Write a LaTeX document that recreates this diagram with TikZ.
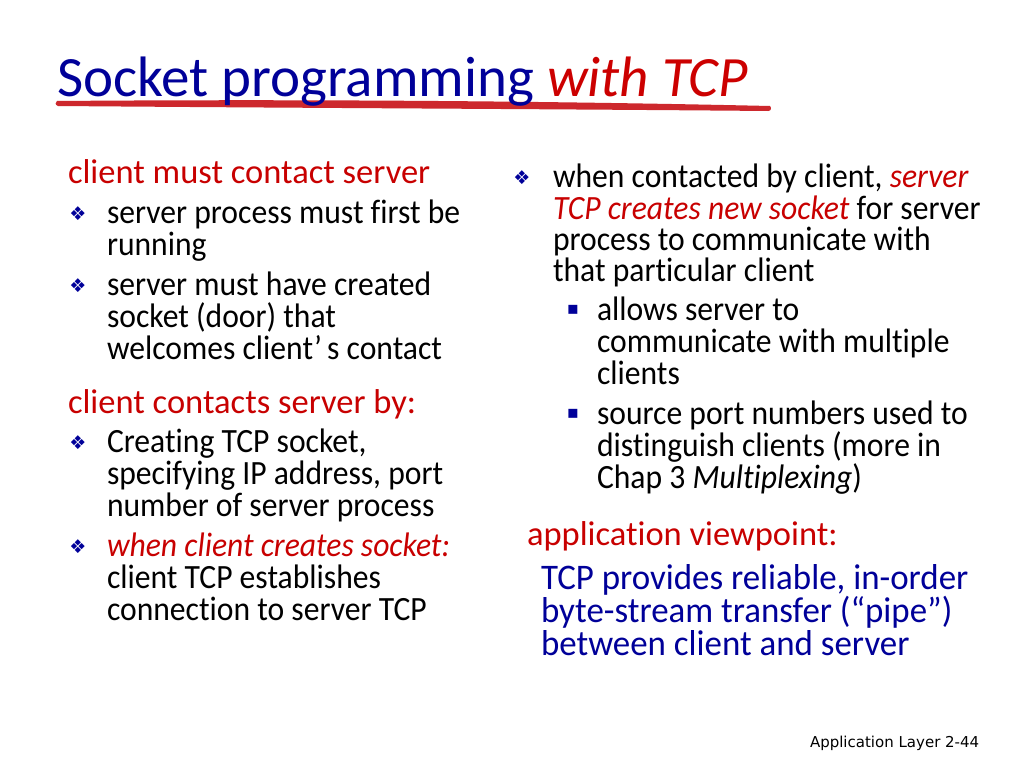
\documentclass[tikz,border=0pt]{standalone}
\usepackage{fontspec}
\setmainfont[RawFeature=-liga]{Carlito}
\newfontfamily\bodyfont[FakeStretch=0.93,RawFeature=-liga]{Carlito}
\newfontfamily\bluefont[FakeStretch=0.97,RawFeature=-liga]{Carlito}
\newfontfamily\symfont{DejaVu Sans}
\newfontfamily\footfont{DejaVu Sans}
\definecolor{navy}{RGB}{0,0,153}
\definecolor{tred}{RGB}{204,0,0}
\definecolor{bred}{RGB}{200,0,0}
\definecolor{ulred}{RGB}{205,40,45}
\tikzset{
  every node/.style={inner sep=0pt,outer sep=0pt,anchor=base west},
  titletxt/.style={font=\fontsize{57}{57}\selectfont,text=navy},
  bodytxt/.style={font=\bodyfont\fontsize{34}{34}\selectfont,text=black},
  headtxt/.style={font=\fontsize{34.5}{34.5}\selectfont,text=bred},
  bluetxt/.style={font=\bluefont\fontsize{36}{36}\selectfont,text=navy},
  bul/.style={font=\symfont\fontsize{19}{19}\selectfont,text=navy,anchor=center},
  sqbul/.style={font=\symfont\fontsize{18}{18}\selectfont,text=navy,anchor=center},
  foottxt/.style={font=\footfont\fontsize{15}{15}\selectfont,text=black}
}
\begin{document}
\begin{tikzpicture}[x=1pt,y=-1pt]
\useasboundingbox (0,0) rectangle (1024,768);
\fill[white] (0,0) rectangle (1024,768);
% title underline (brush stroke)
\fill[ulred] (57,101) .. controls (300,99) and (550,101) .. (770,106)
  .. controls (772,108) and (771,111) .. (768,111)
  .. controls (550,109) and (300,108) .. (58,106)
  .. controls (55,105) and (55,102) .. (57,101) -- cycle;
\node[titletxt] (title) at (57,96) {Socket programming \textcolor{tred}{\itshape with TCP}};
% left column
\node[headtxt] (h1) at (68,183) {client must contact server};
\node[bul] (b1) at (78,214) {❖};
\node[bodytxt] (l1a) at (107,223) {server process must first be};
\node[bodytxt] (l1b) at (107,255) {running};
\node[bul] (b2) at (78,286) {❖};
\node[bodytxt] (l2a) at (107,295) {server must have created};
\node[bodytxt] (l2b) at (107,327) {socket (door) that};
\node[bodytxt] (l2c) at (107,359) {welcomes client’\hspace{5pt}s contact};
\node[headtxt] (h2) at (68,413) {client contacts server by:};
\node[bul] (b3) at (78,443) {❖};
\node[bodytxt] (l3a) at (107,452) {Creating TCP socket,};
\node[bodytxt] (l3b) at (107,484) {specifying IP address, port};
\node[bodytxt] (l3c) at (107,516) {number of server process};
\node[bul] (b4) at (78,547) {❖};
\node[bodytxt] (l4a) at (107,556) {\textcolor{bred}{\itshape when client creates socket:}};
\node[bodytxt] (l4b) at (107,588) {client TCP establishes};
\node[bodytxt] (l4c) at (107,620) {connection to server TCP};
% right column
\node[bul] (b5) at (522,178) {❖};
\node[bodytxt] (r1a) at (553,187) {when contacted by client, \textcolor{bred}{\itshape server}};
\node[bodytxt] (r1b) at (553,219) {\textcolor{bred}{\itshape TCP creates new socket} for server};
\node[bodytxt] (r1c) at (553,250) {process to communicate with};
\node[bodytxt] (r1d) at (553,281) {that particular client};
\node[sqbul] (s1) at (573,310) {▪};
\node[bodytxt] (r2a) at (597,320) {allows server to};
\node[bodytxt] (r2b) at (597,352) {communicate with multiple};
\node[bodytxt] (r2c) at (597,384) {clients};
\node[sqbul] (s2) at (573,414) {▪};
\node[bodytxt] (r3a) at (597,424) {source port numbers used to};
\node[bodytxt] (r3b) at (597,456) {distinguish clients (more in};
\node[bodytxt] (r3c) at (597,488) {Chap 3 \textit{Multiplexing})};
\node[headtxt] (h3) at (527,545) {application viewpoint:};
\node[bluetxt] (v1) at (541,589) {TCP provides reliable, in-order};
\node[bluetxt] (v2) at (541,622) {byte-stream transfer (“pipe”)};
\node[bluetxt] (v3) at (541,655) {between client and server};
% footer
\node[foottxt] (foot) at (810,747) {Application Layer 2-44};
\end{tikzpicture}
\end{document}
